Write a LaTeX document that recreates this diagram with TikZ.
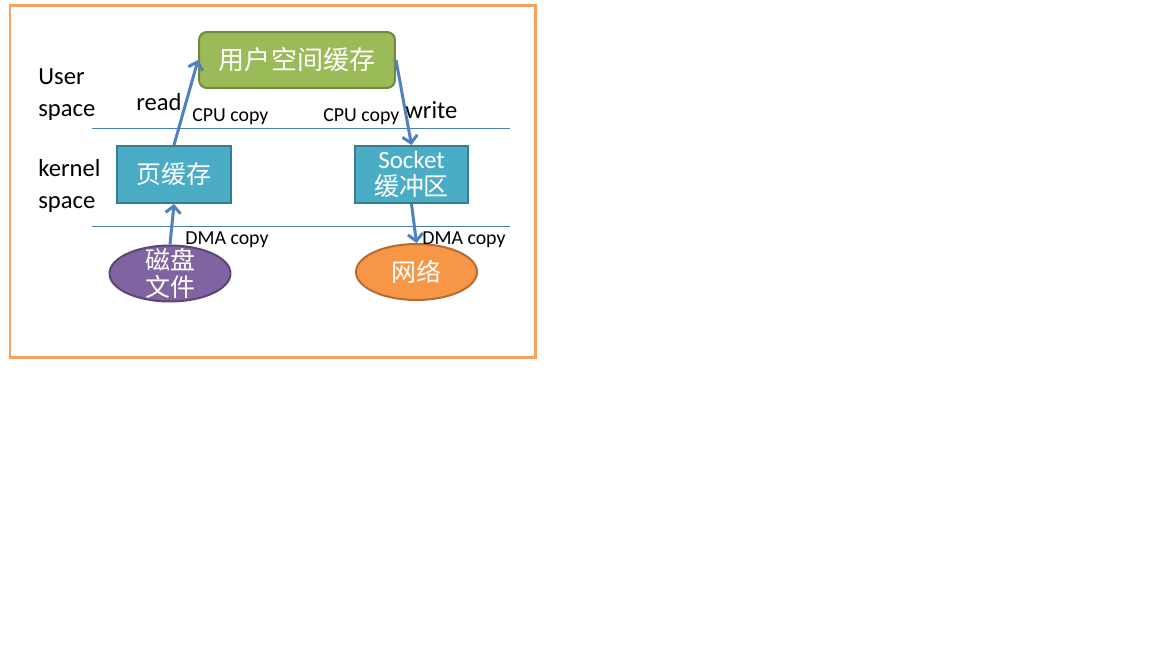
\documentclass[tikz,border=0pt]{standalone}
\usepackage{fontspec}
\setmainfont{Carlito}
\newfontfamily\cjk{Noto Sans CJK SC}
\usetikzlibrary{arrows.meta,shapes.geometric}

\definecolor{frameorange}{HTML}{F5A25C}
\definecolor{arrowblue}{HTML}{4F81BD}
\definecolor{lineblue}{HTML}{4A7EBB}
\definecolor{boxgreen}{HTML}{9BBB59}
\definecolor{boxgreenb}{HTML}{71893F}
\definecolor{boxaqua}{HTML}{4BACC6}
\definecolor{boxaquab}{HTML}{357D91}
\definecolor{ellpurple}{HTML}{8064A2}
\definecolor{ellpurpleb}{HTML}{5C4776}
\definecolor{ellorange}{HTML}{F79646}
\definecolor{ellorangeb}{HTML}{B66D31}

\tikzset{
  label/.style={font=\fontsize{14}{18.2}\selectfont, align=left, anchor=west, inner sep=0pt},
  copylabel/.style={font=\fontsize{11.3}{13}\selectfont, anchor=west, inner sep=0pt},
  buffer/.style={draw=boxaquab, fill=boxaqua, line width=0.04cm, text=white,
    minimum width=2.28cm, minimum height=1.14cm, inner sep=0pt, align=center,
    font=\fontsize{14.2}{15.5}\selectfont},
  device/.style={ellipse, line width=0.04cm, text=white, minimum width=2.42cm,
    minimum height=1.12cm, inner sep=-0.2cm, align=center,
    font=\fontsize{14.2}{15.5}\selectfont\cjk},
  copyarrow/.style={->, draw=arrowblue, line width=0.06cm}
}

\begin{document}
\begin{tikzpicture}[x=0.02cm, y=-0.02cm, >={Straight Barb[length=0.14cm, width=0.3cm]}]
  \useasboundingbox (0,0) rectangle (1152,648);

  % frame
  \draw [frameorange, line width=0.06cm, fill=white] (10,6) rectangle (535,357);

  % space separators
  \draw [lineblue, line width=0.02cm] (92,129) -- (510,129);
  \draw [lineblue, line width=0.02cm] (92,227) -- (510,227);

  % buffers
  \node (user) [draw=boxgreenb, fill=boxgreen, line width=0.04cm, rounded corners=0.16cm,
    minimum width=3.92cm, minimum height=1.12cm, inner sep=0pt, text=white,
    font=\fontsize{14.8}{16}\selectfont\cjk] at (297,60) {用户空间缓存};
  \node (page) [buffer] at (174,174.5) {\cjk 页缓存};
  \node (socket) [buffer] at (411.5,174.5) {Socket\\\cjk 缓冲区};

  % devices
  \node (disk) [device, draw=ellpurpleb, fill=ellpurple] at (170,273.5) {磁盘\\文件};
  \node (net) [device, draw=ellorangeb, fill=ellorange] at (416.5,272) {网络};

  % labels
  \node (uspace) [label] at (38,95) {User\\space};
  \node (kspace) [label] at (38,186) {kernel\\space};
  \node (read) [label] at (136,102) {read};
  \node (write) [label] at (405,110) {write};
  \node (cpu1) [copylabel] at (192,117) {CPU copy};
  \node (cpu2) [copylabel] at (323,117) {CPU copy};
  \node (dma1) [copylabel] at (185,240) {DMA copy};
  \node (dma2) [copylabel] at (422,240) {DMA copy};

  % copies
  \draw [copyarrow] (disk.north) -- (page.south);
  \draw [copyarrow] (page.north) -- (user.west);
  \draw [copyarrow] (user.east) -- (socket.north);
  \draw [copyarrow] (socket.south) -- (net.north);
\end{tikzpicture}
\end{document}
